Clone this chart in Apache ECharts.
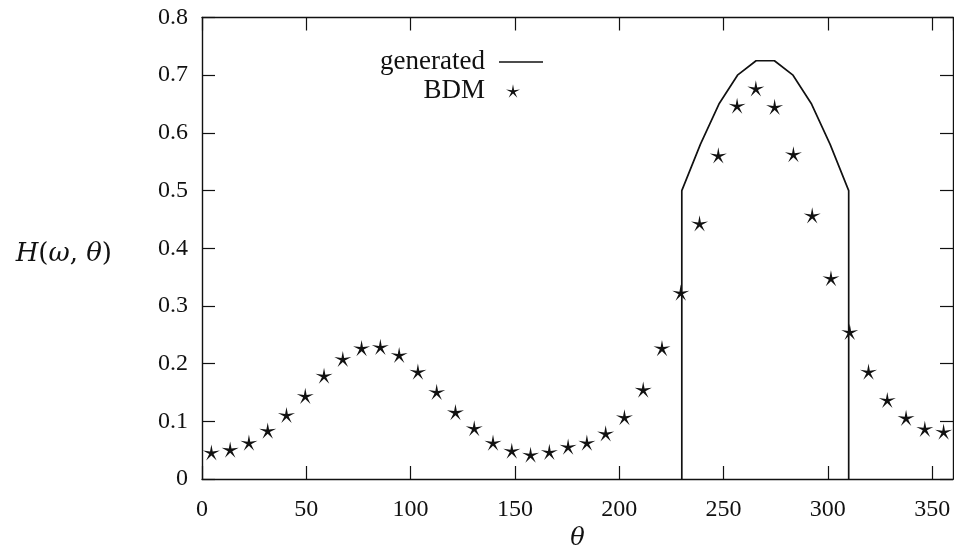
<!DOCTYPE html>
<html>
<head>
<meta charset="utf-8">
<script src="https://cdn.jsdelivr.net/npm/echarts@6/dist/echarts.min.js"></script>
<style>
  html, body { margin: 0; padding: 0; background: #ffffff; }
  #chart { width: 954px; height: 549px; }
</style>
</head>
<body>
<div id="chart"></div>
<script>
// BDM estimate: angle (deg) and H value
const bdmTheta = [4.5, 13.5, 22.5, 31.5, 40.5, 49.5, 58.5, 67.5, 76.5, 85.5,
                  94.5, 103.5, 112.5, 121.5, 130.5, 139.5, 148.5, 157.5, 166.5, 175.5,
                  184.5, 193.5, 202.5, 211.5, 220.5, 229.5, 238.5, 247.5, 256.5, 265.5,
                  274.5, 283.5, 292.5, 301.5, 310.5, 319.5, 328.5, 337.5, 346.5, 355.5];
const bdmValue = [0.046, 0.051, 0.063, 0.084, 0.111, 0.144, 0.179, 0.208, 0.227, 0.229,
                  0.215, 0.186, 0.151, 0.116, 0.088, 0.063, 0.049, 0.042, 0.047, 0.056,
                  0.063, 0.079, 0.107, 0.155, 0.227, 0.323, 0.443, 0.561, 0.647, 0.677,
                  0.645, 0.563, 0.457, 0.348, 0.255, 0.186, 0.137, 0.106, 0.087, 0.082];

// Generated spectrum (zero outside 230..310 deg)
const genTheta = [230, 230, 238.9, 247.8, 256.7, 265.6, 274.4, 283.3, 292.2, 301.1, 310, 310];
const genValue = [0, 0.5, 0.58, 0.65, 0.70, 0.725, 0.725, 0.70, 0.65, 0.58, 0.5, 0];

// Axis ranges and tick steps
const thetaRange = [0, 360];
const thetaStep = 50;
const hRange = [0, 0.8];
const hStep = 0.1;

const seriesNames = ['generated', 'BDM'];

const FONT = 'Liberation Serif';
const MATH_FONT = 'DejaVu Serif';
const INK = '#111111';
// slim five-pointed star marker
const STAR = 'path://M0,-10 L1.5,-2.05 L9.511,-3.09 L2.4,0.78 L5.878,8.09 L0,2.5 L-5.878,8.09 L-2.4,0.78 L-9.511,-3.09 L-1.5,-2.05 Z';
const LEGEND_LINE = 'path://M0,0 L44,0 L44,1.7 L0,1.7 Z';

const zip = (xs, ys) => xs.map((x, i) => [x, ys[i]]);

const axisLine = { show: true, onZero: false, lineStyle: { color: INK, width: 1.4 } };
const axisTick = { show: true, inside: true, length: 13, lineStyle: { color: INK, width: 1.2 } };

const chart = echarts.init(document.getElementById('chart'), null, { renderer: 'canvas' });
chart.setOption({
  animation: false,
  backgroundColor: '#ffffff',
  textStyle: { fontFamily: FONT, color: INK },
  grid: { left: 202, right: 1, top: 17.5, bottom: 70, containLabel: false, outerBoundsMode: 'none' },
  legend: [
    {
      data: [{ name: seriesNames[0], icon: LEGEND_LINE }],
      selectedMode: false,
      align: 'right',
      padding: 0,
      right: 411,
      top: 48,
      itemWidth: 44,
      itemHeight: 2,
      textStyle: { fontFamily: FONT, fontSize: 27, color: INK, lineHeight: 28, padding: [0, 9, 0, 0] }
    },
    {
      data: [seriesNames[1]],
      selectedMode: false,
      align: 'right',
      padding: 0,
      right: 434,
      top: 77,
      itemWidth: 14,
      itemHeight: 14,
      textStyle: { fontFamily: FONT, fontSize: 27, color: INK, lineHeight: 28, padding: [0, 16, 0, 0] }
    }
  ],
  xAxis: [
    {
      type: 'value', position: 'bottom',
      min: thetaRange[0], max: thetaRange[1], interval: thetaStep,
      axisLine: axisLine, axisTick: axisTick, splitLine: { show: false },
      axisLabel: { fontFamily: FONT, fontSize: 24, color: INK, margin: 19, showMaxLabel: false },
      name: 'θ', nameLocation: 'middle', nameGap: 46,
      nameTextStyle: { fontFamily: MATH_FONT, fontSize: 24, fontStyle: 'italic', color: INK }
    },
    {
      type: 'value', position: 'top',
      min: thetaRange[0], max: thetaRange[1], interval: thetaStep,
      axisLine: axisLine, axisTick: axisTick, splitLine: { show: false },
      axisLabel: { show: false }
    }
  ],
  yAxis: [
    {
      type: 'value', position: 'left',
      min: hRange[0], max: hRange[1], interval: hStep,
      axisLine: axisLine, axisTick: axisTick, splitLine: { show: false },
      axisLabel: { fontFamily: FONT, fontSize: 24, color: INK, margin: 14 },
      name: '{i|H}({i|ω}, {i|θ})', nameLocation: 'middle', nameRotate: 0, nameGap: 90,
      nameTextStyle: {
        fontFamily: MATH_FONT, fontSize: 26, color: INK, padding: [12, 0, 0, 0],
        rich: { i: { fontFamily: MATH_FONT, fontSize: 26, fontStyle: 'italic', color: INK } }
      }
    },
    {
      type: 'value', position: 'right',
      min: hRange[0], max: hRange[1], interval: hStep,
      axisLine: axisLine, axisTick: axisTick, splitLine: { show: false },
      axisLabel: { show: false }
    }
  ],
  series: [
    {
      name: seriesNames[0],
      type: 'line',
      xAxisIndex: 0, yAxisIndex: 0,
      data: zip(genTheta, genValue),
      symbol: 'none',
      lineStyle: { color: INK, width: 1.7 },
      itemStyle: { color: INK }
    },
    {
      name: seriesNames[1],
      type: 'scatter',
      xAxisIndex: 0, yAxisIndex: 0,
      data: zip(bdmTheta, bdmValue),
      symbol: STAR,
      symbolSize: 17,
      symbolKeepAspect: true,
      itemStyle: { color: INK, opacity: 1 }
    }
  ]
});
</script>
</body>
</html>
